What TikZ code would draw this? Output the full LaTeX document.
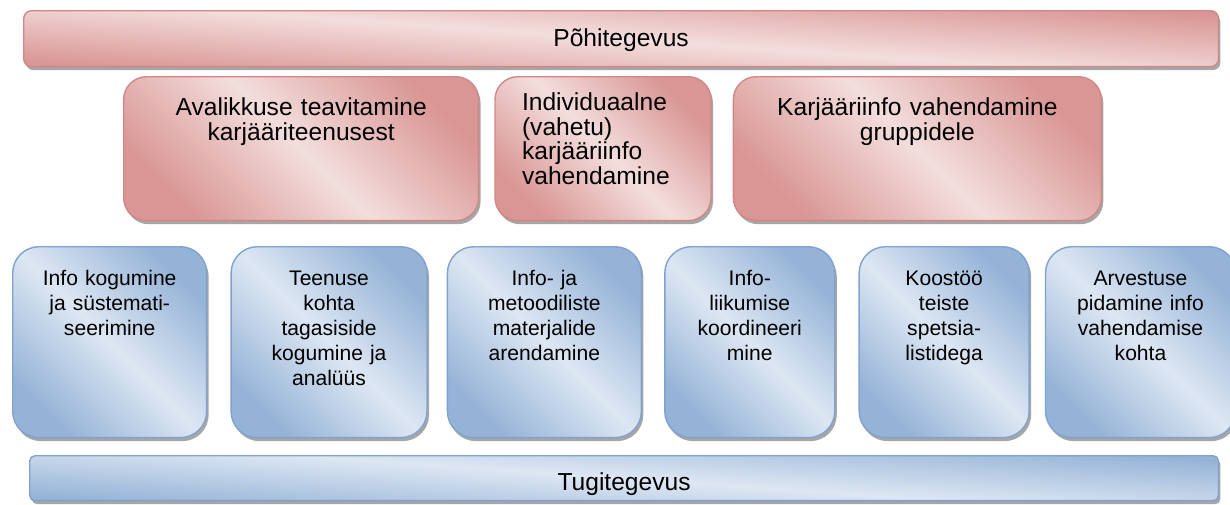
\documentclass[tikz,border=0pt]{standalone}
\usepackage{fontspec}
\setmainfont{Liberation Sans}
\usepackage{tikz}
\usetikzlibrary{shapes,positioning,shadows}
\definecolor{pohidark}{RGB}{217,150,148}
\definecolor{pohilight}{RGB}{243,222,221}
\definecolor{pohiline}{RGB}{208,136,134}
\definecolor{tugidark}{RGB}{149,179,215}
\definecolor{tugilight}{RGB}{221,231,243}
\definecolor{tugiline}{RGB}{128,162,206}
\tikzset{bar/.style={draw, rectangle, line width=0.8pt, inner xsep=0pt, drop shadow={shadow xshift=0.04cm, shadow yshift=-0.07cm, fill=black!50, opacity=0.7}}}
\tikzstyle{pbox}=[bar, draw=pohiline, top color=pohidark, bottom color=pohidark, middle color=pohilight, shading angle=-45]
\tikzstyle{tbox}=[bar, draw=tugiline, top color=tugidark, bottom color=tugidark, middle color=tugilight, shading angle=-45]
\tikzstyle{up}=[pbox, rounded corners=13pt, inner ysep=0pt, align=center, font=\fontsize{14}{14}\selectfont, text height=0.78cm, text depth=2.1cm]
\tikzstyle{lo}=[tbox, rounded corners=15pt, inner ysep=0pt, align=center, font=\fontsize{12}{14.2}\selectfont, text height=0.78cm, text depth=3.04cm]

\begin{document}
\begin{tikzpicture}[x=0.02cm, y=-0.02cm, node distance=0.46cm]
\useasboundingbox (0,0) rectangle (1230,504);
\node[pbox, shading angle=-4, rounded corners=4.5pt, anchor=north west, text width=23.9cm, align=center, font=\fontsize{14}{15}\selectfont, inner ysep=0.2cm, text height=0.52cm, text depth=0.2cm] (P0) at (23,10) {Põhitegevus};
\node[up, anchor=north west, text width=7.1cm] (P1) at (123,76) {Avalikkuse teavitamine\\karjääriteenusest};
\node[up, text width=3.24cm, inner xsep=0.54cm, align=left, text height=0.68cm, text depth=2.2cm][right=0.3cm of P1] (P2) {Individuaalne\\(vahetu)\\karjääriinfo\\vahendamine};
\node[up, text width=7.36cm][right=0.42cm of P2] (P3) {Karjääriinfo vahendamine\\gruppidele};

\node[lo, anchor=north west, text width=3.88cm] (T1) at (12,246) {Info kogumine\\ja süstemati-\\seerimine};
\node[lo, text width=3.92cm][right=0.46cm of T1] (T2) {Teenuse\\kohta\\tagasiside\\kogumine ja\\analüüs};
\node[lo, text width=3.88cm][right=0.38cm of T2] (T3) {Info- ja\\metoodiliste\\materjalide\\arendamine};
\node[lo, text width=3.4cm][right=0.44cm of T3] (T4) {Info-\\liikumise\\koordineeri\\mine};
\node[lo, text width=3.4cm][right=0.46cm of T4] (T5) {Koostöö\\teiste\\spetsia-\\listidega};
\node[lo, text width=3.8cm][right=0.3cm of T5] (T6) {Arvestuse\\pidamine info\\vahendamise\\kohta};
\node[tbox, shading angle=-4, rounded corners=3pt, anchor=north west, text width=23.78cm, align=center, font=\fontsize{14}{15}\selectfont, inner ysep=0.2cm, text height=0.5cm, text depth=0cm] (T0) at (29,455) {Tugitegevus};
\end{tikzpicture}
\end{document}
